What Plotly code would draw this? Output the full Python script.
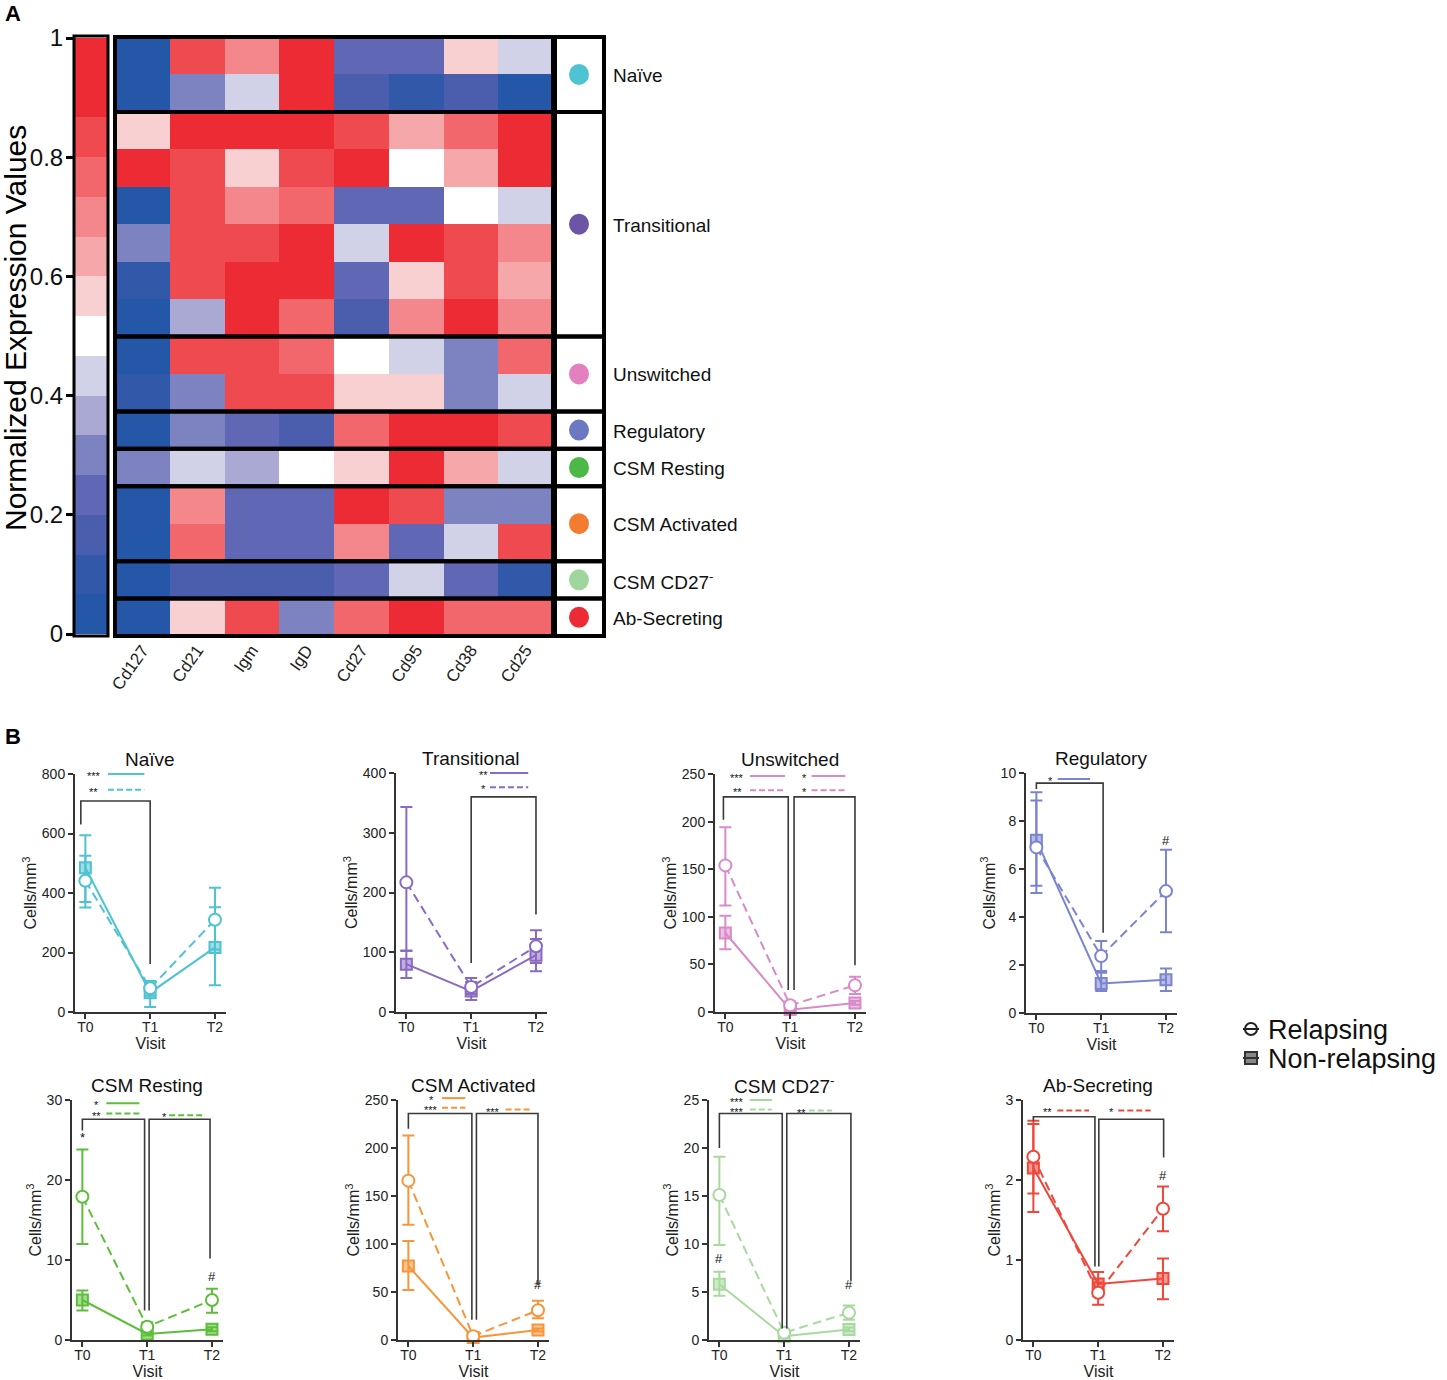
import plotly.graph_objects as go

W, H = 1447, 1380
FONT = "Liberation Sans, Arial, sans-serif"

# ---------------- Panel A data ----------------
markers = ["Cd127", "Cd21", "Igm", "IgD", "Cd27", "Cd95", "Cd38", "Cd25"]
groups = ["Naïve", "Transitional", "Unswitched", "Regulatory", "CSM Resting",
          "CSM Activated", "CSM CD27<sup>-</sup>", "Ab-Secreting"]
group_rows = [2, 6, 2, 1, 1, 2, 1, 1]
group_dot_colors = ["#4ec4d3", "#6d55a5", "#e280c0", "#6b79c2", "#4cb848",
                    "#f47c30", "#a0d69b", "#ec2b35"]
expr = [
    [0.03, 0.83, 0.70, 0.90, 0.23, 0.23, 0.57, 0.43],
    [0.03, 0.30, 0.43, 0.90, 0.17, 0.10, 0.17, 0.03],
    [0.57, 0.90, 0.90, 0.90, 0.83, 0.63, 0.77, 0.90],
    [0.90, 0.83, 0.57, 0.83, 0.90, 0.50, 0.63, 0.90],
    [0.03, 0.83, 0.70, 0.77, 0.23, 0.23, 0.50, 0.43],
    [0.30, 0.83, 0.83, 0.90, 0.43, 0.90, 0.83, 0.70],
    [0.10, 0.83, 0.90, 0.90, 0.23, 0.57, 0.83, 0.63],
    [0.03, 0.37, 0.90, 0.77, 0.17, 0.70, 0.90, 0.70],
    [0.03, 0.83, 0.83, 0.77, 0.50, 0.43, 0.30, 0.77],
    [0.10, 0.30, 0.83, 0.83, 0.57, 0.57, 0.30, 0.43],
    [0.03, 0.30, 0.23, 0.17, 0.77, 0.90, 0.90, 0.83],
    [0.30, 0.43, 0.37, 0.50, 0.57, 0.90, 0.63, 0.43],
    [0.03, 0.70, 0.23, 0.23, 0.90, 0.83, 0.30, 0.30],
    [0.03, 0.77, 0.23, 0.23, 0.70, 0.23, 0.43, 0.83],
    [0.03, 0.17, 0.17, 0.17, 0.23, 0.43, 0.23, 0.10],
    [0.03, 0.57, 0.83, 0.30, 0.77, 0.90, 0.77, 0.77],
]
scale_colors = ["#2457a8", "#3158a9", "#4a5ead", "#6068b5", "#7d83c1", "#a9a9d4",
                "#d1d2e8", "#ffffff", "#f9d0d1", "#f6a7aa", "#f3878c", "#f1676c",
                "#ef4a4f", "#ed2b35", "#ed2b35"]
scale_ticks = [0, 0.2, 0.4, 0.6, 0.8, 1]
scale_ticktext = ["0", "0.2", "0.4", "0.6", "0.8", "1"]

# ---------------- Panel B data ----------------
visits = ["T0", "T1", "T2"]
populations = ["Naïve", "Transitional", "Unswitched", "Regulatory",
               "CSM Resting", "CSM Activated", "CSM CD27<sup>-</sup>", "Ab-Secreting"]
line_colors = ["#4ec3d1", "#8a6bc3", "#d98ac9", "#7b84d1",
               "#5cbf3a", "#f7953b", "#a8d99e", "#f0473b"]
y_max = [800, 400, 250, 10, 30, 250, 25, 3]
y_step = [200, 100, 50, 2, 10, 50, 5, 1]

rel_mean = [[441, 80, 310], [217, 42, 110], [154, 7, 28], [6.9, 2.37, 5.08],
            [17.9, 1.66, 5.0], [166, 4, 31], [15.1, 0.76, 2.84], [2.29, 0.59, 1.64]]
rel_hi = [[594, 104, 418], [343, 57, 137], [194, 11, 37], [9.2, 3.0, 6.8],
          [23.8, 2.2, 6.4], [213, 6, 41], [19.1, 1.0, 3.6], [2.74, 0.72, 1.92]]
rel_lo = [[351, 55, 210], [102, 30, 82], [112, 3, 19], [5.0, 1.75, 3.36],
          [12.0, 1.1, 3.4], [120, 2, 22.6], [9.9, 0.5, 2.1], [1.6, 0.44, 1.36]]
non_mean = [[485, 65, 217], [80, 35, 95], [83, 2.5, 9.5], [7.2, 1.23, 1.39],
            [5.0, 0.75, 1.33], [77, 2.5, 10.4], [5.8, 0.4, 1.1], [2.15, 0.70, 0.77]]
non_hi = [[525, 95, 352], [103, 50, 122], [101, 4, 11.5], [8.85, 1.68, 1.85],
          [6.2, 0.95, 1.6], [103, 3.5, 12], [7.1, 0.55, 1.3], [2.7, 0.85, 1.02]]
non_lo = [[370, 17, 90], [57, 20, 68], [66, 1, 7.5], [5.3, 0.92, 0.92],
          [3.7, 0.55, 1.1], [52, 1.5, 8.8], [4.6, 0.25, 0.9], [1.83, 0.55, 0.51]]

# significance brackets: (x_left, x_right, y_left_end, y_top, y_right_end)
brackets = [
    [(-0.07, 1.0, 630, 709, 161)],
    [(1.0, 2.0, 82, 360, 163)],
    [(-0.03, 0.97, 202, 226, 23), (1.06, 2.0, 23, 226, 49)],
    [(0.0, 1.03, 9.33, 9.58, 3.34)],
    [(0.0, 0.96, 26.2, 27.6, 3.7), (1.03, 1.97, 3.7, 27.6, 10.2)],
    [(0.0, 0.98, 220, 236, 21), (1.05, 2.0, 21, 236, 57)],
    [(0.0, 0.97, 20.0, 23.6, 1.2), (1.04, 2.03, 1.2, 23.6, 6.2)],
    [(0.0, 0.95, 2.74, 2.79, 0.92), (1.01, 2.01, 0.92, 2.76, 2.28)],
]
# star keys: (x_text, y, text, line_x0, line_x1, dash)
star_keys = [
    [(0.13, 800, "***", 0.35, 0.91, "solid"), (0.13, 747, "**", 0.35, 0.91, "dash")],
    [(1.19, 400, "**", 1.29, 1.88, "solid"), (1.19, 376, "*", 1.29, 1.88, "dash")],
    [(0.18, 248, "***", 0.38, 0.92, "solid"), (0.18, 233, "**", 0.38, 0.92, "dash"),
     (1.22, 248, "*", 1.33, 1.85, "solid"), (1.22, 233, "*", 1.33, 1.85, "dash")],
    [(0.22, 9.75, "*", 0.33, 0.83, "solid")],
    [(0.22, 29.6, "*", 0.37, 0.88, "solid"), (0.22, 28.3, "**", 0.37, 0.88, "dash"),
     (1.27, 28.1, "*", 1.34, 1.85, "dash")],
    [(0.35, 252, "*", 0.52, 0.88, "solid"), (0.35, 242, "***", 0.52, 0.88, "dash"),
     (1.31, 240, "***", 1.5, 1.9, "dash")],
    [(0.27, 25.0, "***", 0.47, 0.81, "solid"), (0.27, 24.0, "***", 0.47, 0.81, "dash"),
     (1.26, 23.9, "**", 1.38, 1.74, "dash")],
    [(0.22, 2.87, "**", 0.37, 0.86, "dash"), (1.21, 2.87, "*", 1.31, 1.81, "dash")],
]
# extra marks (#, *) above points: (x, y, text)
extra_marks = [
    [], [], [], [(2, 7.2, "#")],
    [(0, 25.3, "*"), (2, 8.0, "#")],
    [(2, 58, "#")],
    [(0, 8.5, "#"), (2, 5.8, "#")],
    [(2, 2.06, "#")],
]

# ---------------- geometry (pixels) ----------------
HM_L, HM_R, HM_T, HM_B = 115, 553, 37, 636
CB_L, CB_R, CB_T, CB_B = 75, 107, 38, 634
LB_L, LB_R = 555, 604

P_LEFT = [75, 396, 715, 1026, 72, 398, 709, 1023]
P_TOP = [774, 773, 774, 773, 1100, 1100, 1100, 1100]
P_BOT = [1012, 1012, 1012, 1013, 1340, 1340, 1340, 1340]
P_W = 151
XMIN, XMAX = -0.16, 2.17


def fx(px):
    return px / W


def fy(py):
    return 1 - py / H


def d2p(i, x, y):
    px = P_LEFT[i] + (x - XMIN) / (XMAX - XMIN) * P_W
    py = P_BOT[i] - y / y_max[i] * (P_BOT[i] - P_TOP[i])
    return fx(px), fy(py)


def text_anno(x, y, text, size, xanchor="center", yanchor="middle", **kw):
    d = dict(x=x, y=y, xref="paper", yref="paper", text=text, showarrow=False,
             xanchor=xanchor, yanchor=yanchor,
             font=dict(family=FONT, size=size, color=kw.pop("color", "#111")))
    d.update(kw)
    return d


n_lev = len(scale_colors)
colorscale = []
for k, c in enumerate(scale_colors):
    colorscale.append([k / n_lev, c])
    colorscale.append([(k + 1) / n_lev, c])

fig = go.Figure()
shapes = []
annos = []

# main heatmap
n_rows = len(expr)
fig.add_trace(go.Heatmap(z=expr, x=list(range(len(markers))), y=list(range(n_rows)),
                         colorscale=colorscale, zmin=0, zmax=1, showscale=False,
                         xaxis="x", yaxis="y", hoverinfo="skip"))
# colour scale strip
centers = [(k + 0.5) / n_lev for k in range(n_lev)]
fig.add_trace(go.Heatmap(z=[[c] for c in centers], x=[0], y=centers,
                         colorscale=colorscale, zmin=0, zmax=1, showscale=False,
                         xaxis="x2", yaxis="y2", hoverinfo="skip"))

row_h = (HM_B - HM_T) / n_rows
cum = 0
for g, nr in enumerate(group_rows):
    top = HM_T + cum * row_h
    bot = HM_T + (cum + nr) * row_h
    shapes.append(dict(type="rect", xref="paper", yref="paper",
                       x0=fx(LB_L), x1=fx(LB_R), y0=fy(bot), y1=fy(top),
                       line=dict(color="black", width=4)))
    shapes.append(dict(type="rect", xref="paper", yref="paper",
                       x0=fx(HM_L), x1=fx(HM_R), y0=fy(bot), y1=fy(top),
                       line=dict(color="black", width=4)))
    cy = (top + bot) / 2
    shapes.append(dict(type="circle", xref="paper", yref="paper",
                       x0=fx(579 - 10), x1=fx(579 + 10), y0=fy(cy + 10.5), y1=fy(cy - 10.5),
                       fillcolor=group_dot_colors[g], line=dict(width=0)))
    annos.append(text_anno(fx(611), fy(cy + 1), groups[g], 19, xanchor="left"))
    cum += nr

shapes.append(dict(type="rect", xref="paper", yref="paper",
                   x0=fx(CB_L - 1), x1=fx(CB_R + 1), y0=fy(CB_B + 2), y1=fy(CB_T - 2),
                   line=dict(color="black", width=3)))

annos.append(text_anno(fx(15), fy(328), "Normalized Expression Values", 30,
                       textangle=-90, color="black"))
annos.append(text_anno(fx(13), fy(13), "<b>A</b>", 22, color="black"))
annos.append(text_anno(fx(13), fy(737), "<b>B</b>", 22, color="black"))

layout_axes = {}
layout_axes["xaxis"] = dict(domain=[fx(HM_L), fx(HM_R)], range=[-0.5, len(markers) - 0.5],
                            tickvals=list(range(len(markers))), ticktext=markers,
                            tickangle=-55, ticks="", showline=False, showgrid=False,
                            zeroline=False, anchor="y", automargin=False,
                            tickfont=dict(family=FONT, size=17, color="#222"))
layout_axes["yaxis"] = dict(domain=[fy(HM_B), fy(HM_T)], range=[n_rows - 0.5, -0.5],
                            showticklabels=False, ticks="", showgrid=False,
                            zeroline=False, anchor="x", automargin=False)
layout_axes["xaxis2"] = dict(domain=[fx(CB_L), fx(CB_R)], range=[-0.5, 0.5],
                             showticklabels=False, ticks="", showgrid=False,
                             zeroline=False, anchor="y2", automargin=False)
layout_axes["yaxis2"] = dict(domain=[fy(CB_B), fy(CB_T)], range=[0, 1],
                             tickvals=scale_ticks, ticktext=scale_ticktext,
                             ticks="outside", ticklen=8, tickwidth=3, tickcolor="black",
                             showgrid=False, zeroline=False, anchor="x2", automargin=False,
                             ticklabelstandoff=-2,
                             tickfont=dict(family=FONT, size=24, color="#111"))

# ---------------- Panel B ----------------
for i in range(8):
    xa = "x%d" % (i + 3)
    ya = "y%d" % (i + 3)
    col = line_colors[i]
    r, g_, b = int(col[1:3], 16), int(col[3:5], 16), int(col[5:7], 16)
    fill = "rgba(%d,%d,%d,0.55)" % (r, g_, b)
    xs = list(range(len(visits)))
    fig.add_trace(go.Scatter(
        x=xs, y=non_mean[i], mode="lines+markers", xaxis=xa, yaxis=ya,
        line=dict(color=col, width=2),
        marker=dict(symbol="square", size=11, color=fill, line=dict(color=col, width=2)),
        error_y=dict(type="data", symmetric=False,
                     array=[h - m for h, m in zip(non_hi[i], non_mean[i])],
                     arrayminus=[m - l for m, l in zip(non_mean[i], non_lo[i])],
                     color=col, thickness=2, width=6),
        cliponaxis=False, showlegend=False, hoverinfo="skip"))
    fig.add_trace(go.Scatter(
        x=xs, y=rel_mean[i], mode="lines+markers", xaxis=xa, yaxis=ya,
        line=dict(color=col, width=2, dash="9px,5px"),
        marker=dict(symbol="circle", size=12, color="white", line=dict(color=col, width=2)),
        error_y=dict(type="data", symmetric=False,
                     array=[h - m for h, m in zip(rel_hi[i], rel_mean[i])],
                     arrayminus=[m - l for m, l in zip(rel_mean[i], rel_lo[i])],
                     color=col, thickness=2, width=6),
        cliponaxis=False, showlegend=False, hoverinfo="skip"))

    axis_font = dict(family=FONT, size=14, color="#222")
    layout_axes["xaxis%d" % (i + 3)] = dict(
        domain=[fx(P_LEFT[i]), fx(P_LEFT[i] + P_W)], range=[XMIN, XMAX],
        tickvals=xs, ticktext=visits, ticks="outside", ticklen=5, tickwidth=2,
        tickcolor="#333", showline=True, linecolor="#333", linewidth=2,
        showgrid=False, zeroline=False, anchor=ya, tickfont=axis_font, automargin=False,
        ticklabelstandoff=-4,
        title=dict(text="Visit", font=dict(family=FONT, size=16, color="#222"), standoff=4))
    layout_axes["yaxis%d" % (i + 3)] = dict(
        domain=[fy(P_BOT[i]), fy(P_TOP[i])], range=[0, y_max[i]], dtick=y_step[i],
        tick0=0, ticks="outside", ticklen=5, tickwidth=2, tickcolor="#333",
        showline=True, linecolor="#333", linewidth=2, showgrid=False, zeroline=False,
        anchor=xa, tickfont=axis_font, automargin=False,
        title=dict(text="Cells/mm<sup>3</sup>", font=dict(family=FONT, size=16, color="#222"),
                   standoff=1))

    tx, _ = d2p(i, 1.0, 0)
    annos.append(text_anno(tx, fy(P_TOP[i] - 15), populations[i], 19))
    for (x0, x1, yl, yt, yr) in brackets[i]:
        ax0, ayl = d2p(i, x0, yl)
        _, ayt = d2p(i, x0, yt)
        ax1, ayr = d2p(i, x1, yr)
        shapes.append(dict(type="path", xref="paper", yref="paper",
                           path="M %f,%f L %f,%f L %f,%f L %f,%f" % (ax0, ayl, ax0, ayt, ax1, ayt, ax1, ayr),
                           line=dict(color="#3a3a3a", width=1.6)))
    for (xt, yv, txt, lx0, lx1, dash) in star_keys[i]:
        px_, py_ = d2p(i, xt, yv)
        annos.append(text_anno(px_, py_, txt, 11, yshift=-2))
        a0, ay = d2p(i, lx0, yv)
        a1, _ = d2p(i, lx1, yv)
        shapes.append(dict(type="line", xref="paper", yref="paper", x0=a0, x1=a1,
                           y0=ay, y1=ay,
                           line=dict(color=col, width=2,
                                     dash="solid" if dash == "solid" else "6px,3px")))
    for (xm, ym, txt) in extra_marks[i]:
        px_, py_ = d2p(i, xm, ym)
        annos.append(text_anno(px_, py_, txt, 13))

# legend
shapes.append(dict(type="circle", xref="paper", yref="paper",
                   x0=fx(1245), x1=fx(1257), y0=fy(1035), y1=fy(1023),
                   line=dict(color="#222", width=2), fillcolor="white"))
shapes.append(dict(type="line", xref="paper", yref="paper",
                   x0=fx(1243), x1=fx(1259), y0=fy(1029), y1=fy(1029),
                   line=dict(color="#222", width=2)))
shapes.append(dict(type="rect", xref="paper", yref="paper",
                   x0=fx(1245), x1=fx(1257), y0=fy(1064), y1=fy(1052),
                   line=dict(color="#333", width=2), fillcolor="#888"))
shapes.append(dict(type="line", xref="paper", yref="paper",
                   x0=fx(1243), x1=fx(1259), y0=fy(1058), y1=fy(1058),
                   line=dict(color="#333", width=2)))
annos.append(text_anno(fx(1266), fy(1030), "Relapsing", 27, xanchor="left"))
annos.append(text_anno(fx(1266), fy(1059), "Non-relapsing", 27, xanchor="left"))

fig.update_layout(width=W, height=H, margin=dict(l=0, r=0, t=0, b=0, autoexpand=False),
                  paper_bgcolor="white", plot_bgcolor="white",
                  shapes=shapes, annotations=annos, showlegend=False,
                  font=dict(family=FONT), **layout_axes)

fig.write_html("out.html", config={"displayModeBar": False, "staticPlot": True},
               post_script="document.body.style.margin='0px';document.body.style.overflow='hidden';")
